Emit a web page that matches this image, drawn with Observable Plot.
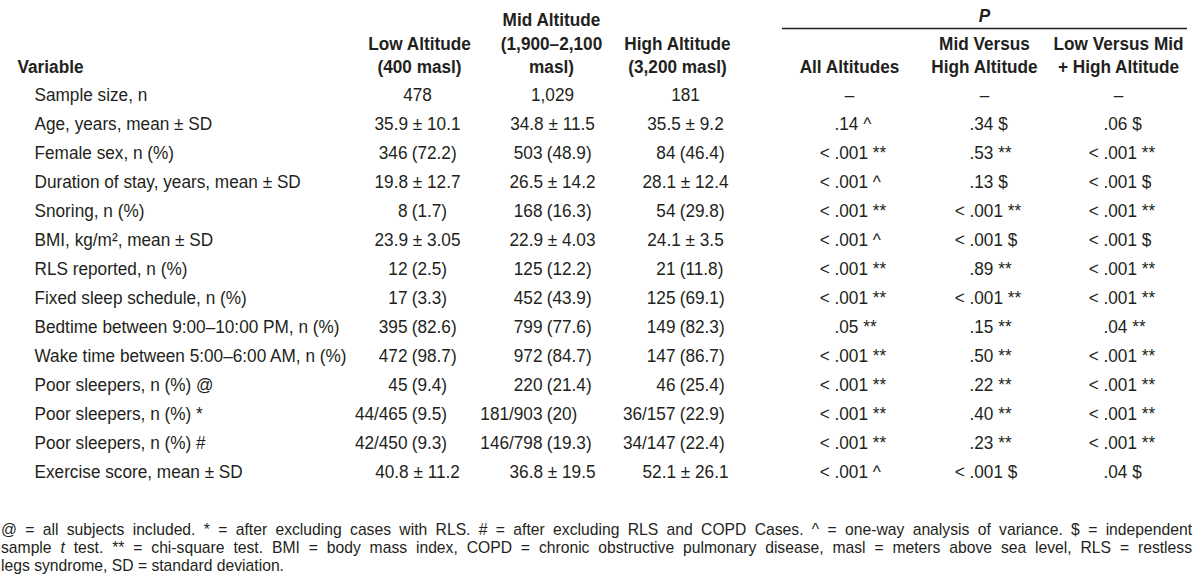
<!DOCTYPE html>
<html>
<head>
<meta charset="utf-8">
<script src="https://cdn.jsdelivr.net/npm/d3@7"></script>
<script src="https://cdn.jsdelivr.net/npm/@observablehq/plot@0.6"></script>
<style>
  html, body { margin: 0; padding: 0; background: #fff; }
  #wrap { width: 1200px; overflow: hidden; }
  .foot { font-family: "Liberation Sans", Arial, sans-serif; font-size: 15.7px; line-height: 18px; color: #231f20; padding: 16px 8px 0 1px; }
  .foot div.j { text-align: justify; text-align-last: justify; }
  .foot div.l { text-align: left; }
</style>
</head>
<body>
<div id="wrap"></div>
<script>
// ---------- data ----------
const variables = [
  "Sample size, n",
  "Age, years, mean ± SD",
  "Female sex, n (%)",
  "Duration of stay, years, mean ± SD",
  "Snoring, n (%)",
  "BMI, kg/m², mean ± SD",
  "RLS reported, n (%)",
  "Fixed sleep schedule, n (%)",
  "Bedtime between 9:00–10:00 PM, n (%)",
  "Wake time between 5:00–6:00 AM, n (%)",
  "Poor sleepers, n (%) @",
  "Poor sleepers, n (%) *",
  "Poor sleepers, n (%) #",
  "Exercise score, mean ± SD"
];
const lowAltitude = ["478", "35.9 ± 10.1", "346 (72.2)", "19.8 ± 12.7", "8 (1.7)", "23.9 ± 3.05", "12 (2.5)", "17 (3.3)", "395 (82.6)", "472 (98.7)", "45 (9.4)", "44/465 (9.5)", "42/450 (9.3)", "40.8 ± 11.2"];
const midAltitude = ["1,029", "34.8 ± 11.5", "503 (48.9)", "26.5 ± 14.2", "168 (16.3)", "22.9 ± 4.03", "125 (12.2)", "452 (43.9)", "799 (77.6)", "972 (84.7)", "220 (21.4)", "181/903 (20)", "146/798 (19.3)", "36.8 ± 19.5"];
const highAltitude = ["181", "35.5 ± 9.2", "84 (46.4)", "28.1 ± 12.4", "54 (29.8)", "24.1 ± 3.5", "21 (11.8)", "125 (69.1)", "149 (82.3)", "147 (86.7)", "46 (25.4)", "36/157 (22.9)", "34/147 (22.4)", "52.1 ± 26.1"];
const pAllAltitudes = ["–", ".14 ^", "< .001 **", "< .001 ^", "< .001 **", "< .001 ^", "< .001 **", "< .001 **", ".05 **", "< .001 **", "< .001 **", "< .001 **", "< .001 **", "< .001 ^"];
const pMidVsHigh = ["–", ".34 $", ".53 **", ".13 $", "< .001 **", "< .001 $", ".89 **", "< .001 **", ".15 **", ".50 **", ".22 **", ".40 **", ".23 **", "< .001 $"];
const pLowVsMidHigh = ["–", ".06 $", "< .001 **", "< .001 $", "< .001 **", "< .001 $", "< .001 **", "< .001 **", ".04 **", "< .001 **", "< .001 **", "< .001 **", "< .001 **", ".04 $"];

const headerVariable = "Variable";
const columnHeaders = ["Low Altitude\n(400 masl)", "Mid Altitude\n(1,900–2,100\nmasl)", "High Altitude\n(3,200 masl)", "All Altitudes", "Mid Versus\nHigh Altitude", "Low Versus Mid\n+ High Altitude"];
const pGroupLabel = "P";
const notes = [
  "@ = all subjects included. * = after excluding cases with RLS. # = after excluding RLS and COPD Cases. ^ = one-way analysis of variance. $ = independent",
  "sample t test. ** = chi-square test. BMI = body mass index, COPD = chronic obstructive pulmonary disease, masl = meters above sea level, RLS = restless",
  "legs syndrome, SD = standard deviation."
];

// ---------- layout (table geometry) ----------
const xKeys = ["var", "low", "mid", "high", "hLow", "hMid", "hHigh", "pAll", "pMH", "pLM", "ruleStart", "ruleEnd"];
const xPos  = [17, 417, 552, 685, 419, 551, 677, 849, 984, 1118, 782, 1187];
const headerKeys = ["hLow", "hMid", "hHigh", "pAll", "pMH", "pLM"];
const superscriptCells = [["BMI, kg/m², mean ± SD", "pLM"]];
const glyphScaleX = 0.93;

// ---------- build cells ----------
const groups = [["low", lowAltitude], ["mid", midAltitude], ["high", highAltitude]];
const cells = groups.flatMap(([col, vals]) => vals.map((text, i) => ({row: variables[i], col, text})));
const plainCells = cells.filter(d => !/ \(/.test(d.text));
const pairCells = cells.filter(d => / \(/.test(d.text)).map(d => {
  const m = d.text.match(/^(.*) (\(.*\))$/);
  return {...d, count: m[1], pct: m[2]};
});
const pGroups = [["pAll", pAllAltitudes], ["pMH", pMidVsHigh], ["pLM", pLowVsMidHigh]];
const pCells = pGroups.flatMap(([col, vals]) => vals.map((text, i) => {
  const m = text.match(/^(<) (.*)$/);
  return {row: variables[i], col, text, prefix: m ? m[1] : null, rest: m ? m[2] : text};
}));
const isSup = d => superscriptCells.some(([r, c]) => r === d.row && c === d.col);
const dashCells = pCells.filter(d => d.text === "–");
const valueCells = pCells.filter(d => d.text !== "–" && !isSup(d));
const supCells = pCells.filter(d => d.text !== "–" && isSup(d));
const prefixCells = pCells.filter(d => d.prefix);

const ink = "#231f20";
const fs = 18.5;

const chart = Plot.plot({
  width: 1200,
  height: 505,
  margin: 0,
  style: {fontFamily: "'Liberation Sans', Arial, sans-serif", color: ink, background: "white", overflow: "visible"},
  x: {type: "ordinal", domain: xKeys, range: xPos, axis: null},
  y: {type: "point", domain: ["header", ...variables], range: [61.3, 477], padding: 0, axis: null},
  marks: [
    // headers
    Plot.text([headerVariable], {x: () => "var", y: () => "header", text: d => d, textAnchor: "start", lineAnchor: "bottom", dy: 6.6, fontSize: fs, fontWeight: "bold", fill: ink}),
    Plot.text(columnHeaders, {x: (d, i) => headerKeys[i], y: () => "header", text: d => d, lineAnchor: "bottom", lineHeight: 1.27, dy: 6.6, fontSize: fs, fontWeight: "bold", fill: ink}),
    Plot.text([pGroupLabel], {x: () => "pMH", y: () => "header", text: d => d, lineAnchor: "bottom", dy: -45, fontSize: fs, fontWeight: "bold", fontStyle: "italic", fill: ink}),
    Plot.ruleY(["header"], {y: d => d, x1: () => "ruleStart", x2: () => "ruleEnd", dy: -38, stroke: ink, strokeWidth: 1.4}),
    // row labels
    Plot.text(variables, {x: () => "var", y: d => d, text: d => d, textAnchor: "start", dx: 17, fontSize: fs, fill: ink, ariaLabel: "row-label"}),
    // group values
    Plot.text(plainCells, {x: "col", y: "row", text: "text", fontSize: fs, fill: ink}),
    Plot.text(pairCells, {x: "col", y: "row", text: "count", textAnchor: "end", dx: -10, fontSize: fs, fill: ink}),
    Plot.text(pairCells, {x: "col", y: "row", text: "pct", textAnchor: "start", dx: -5.8, fontSize: fs, fill: ink}),
    // P values
    Plot.text(dashCells, {x: "col", y: "row", text: "text", fontSize: fs, fill: ink}),
    Plot.text(prefixCells, {x: "col", y: "row", text: "prefix", textAnchor: "end", dx: -19.8, fontSize: fs, fill: ink}),
    Plot.text(valueCells, {x: "col", y: "row", text: "rest", textAnchor: "start", dx: -15, fontSize: fs, fill: ink}),
    Plot.text(supCells, {x: "col", y: "row", text: "rest", textAnchor: "start", dx: -15, fontSize: fs, fill: ink, ariaLabel: "p-sup"})
  ]
});

// small caps for AM / PM
d3.select(chart).selectAll('g[aria-label="row-label"] text').each(function () {
  const t = this.textContent;
  const m = t.match(/^(.* )(AM|PM)(,.*)$/);
  if (!m) return;
  const el = d3.select(this);
  el.text(null);
  el.append("tspan").text(m[1]);
  el.append("tspan").attr("font-size", "0.78em").text(m[2]);
  el.append("tspan").text(m[3]);
});
// superscript symbol
d3.select(chart).selectAll('g[aria-label="p-sup"] text').each(function () {
  const t = this.textContent;
  const m = t.match(/^(.*) (\S+)$/);
  if (!m) return;
  const el = d3.select(this);
  el.text(null);
  el.append("tspan").text(m[1] + " ");
  el.append("tspan").attr("font-size", "0.6em").attr("dy", "-0.55em").text(m[2]);
});
// slightly condensed glyphs (as in the source typeface)
d3.select(chart).selectAll("text").each(function () {
  const tr = this.getAttribute("transform") || "";
  this.setAttribute("transform", (tr + ` scale(${glyphScaleX},1)`).trim());
});

const wrap = document.getElementById("wrap");
wrap.appendChild(chart);

const foot = document.createElement("div");
foot.className = "foot";
notes.forEach((line, i) => {
  const div = document.createElement("div");
  div.className = i < notes.length - 1 ? "j" : "l";
  const parts = line.split(/(sample t test)/);
  parts.forEach(p => {
    if (p === "sample t test") {
      div.appendChild(document.createTextNode("sample "));
      const it = document.createElement("i");
      it.textContent = "t";
      div.appendChild(it);
      div.appendChild(document.createTextNode(" test"));
    } else {
      div.appendChild(document.createTextNode(p));
    }
  });
  foot.appendChild(div);
});
wrap.appendChild(foot);
</script>
</body>
</html>
